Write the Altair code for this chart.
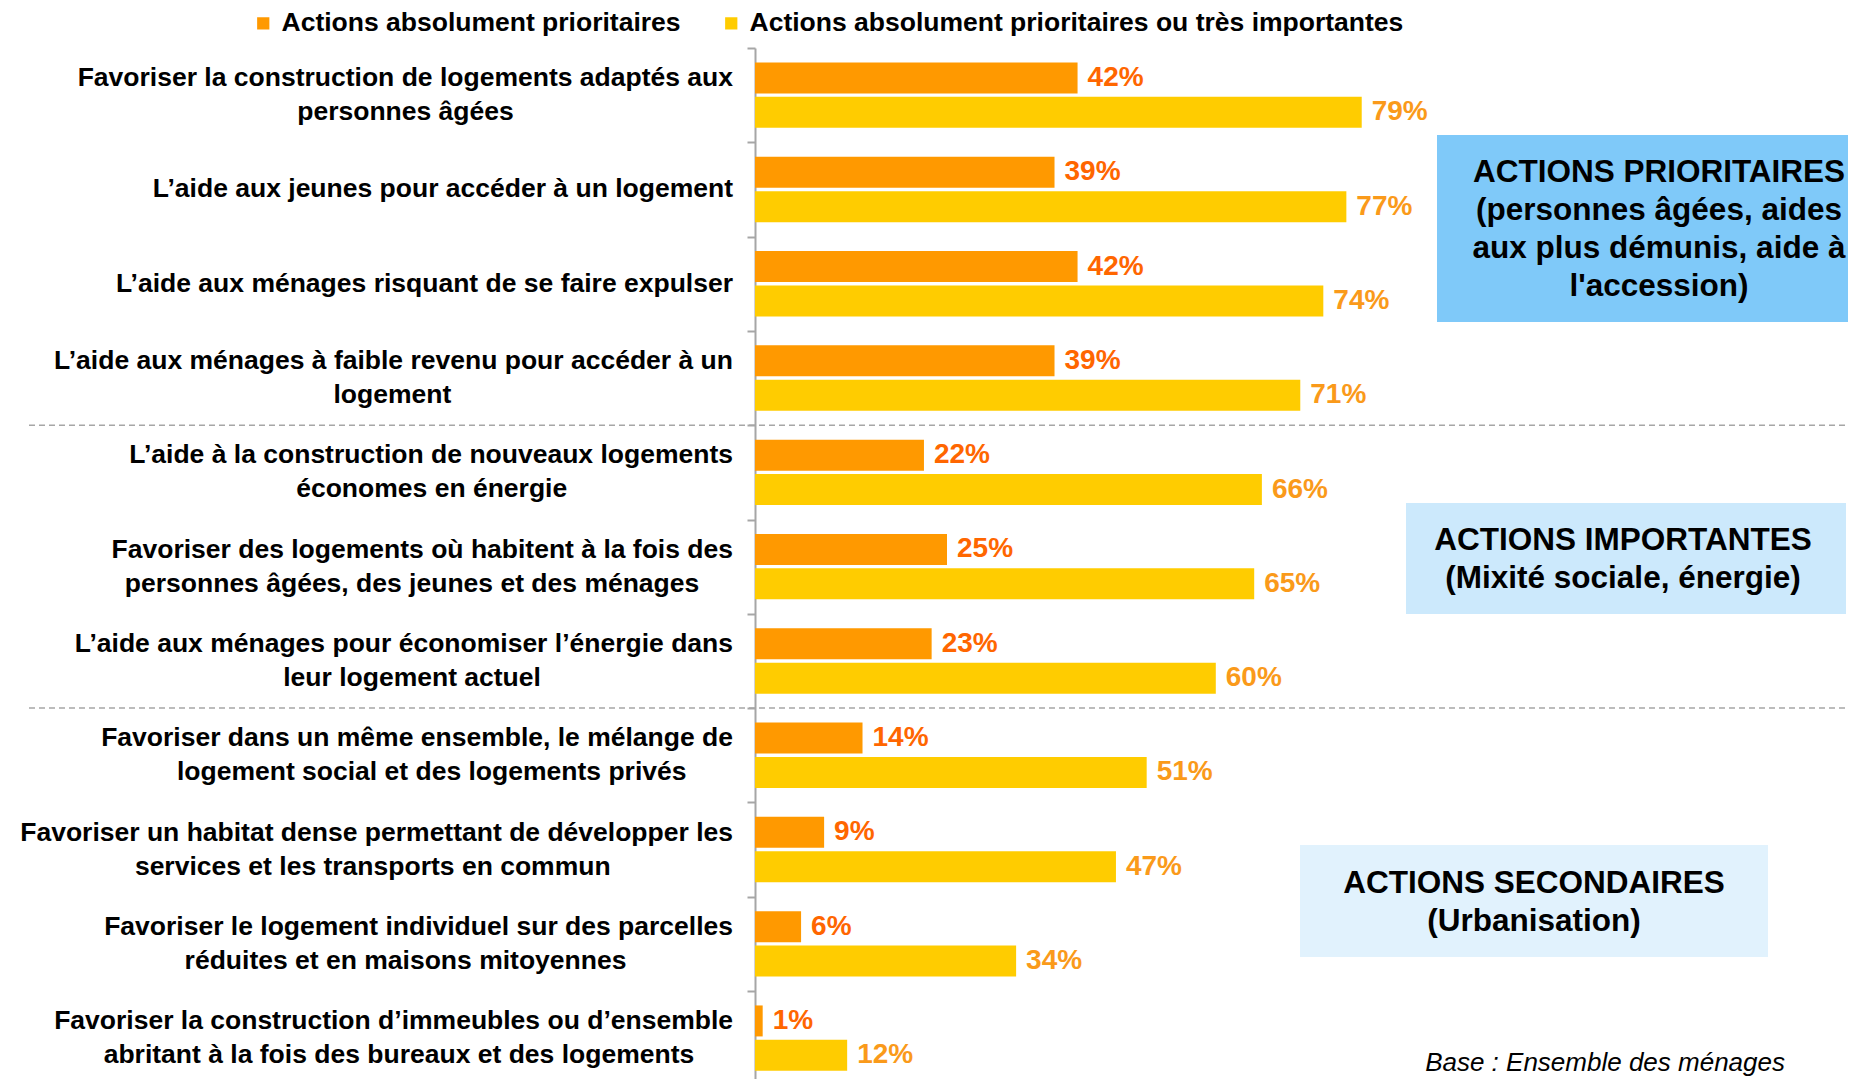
import altair as alt
import pandas as pd

# ---------------- data ----------------
CATEGORIES = [
    "Favoriser la construction de logements adaptés aux|personnes âgées",
    "L’aide aux jeunes pour accéder à un logement",
    "L’aide aux ménages risquant de se faire expulser",
    "L’aide aux ménages à faible revenu pour accéder à un|logement",
    "L’aide à la construction de nouveaux logements|économes en énergie",
    "Favoriser des logements où habitent à la fois des|personnes âgées, des jeunes et des ménages",
    "L’aide aux ménages pour économiser l’énergie dans|leur logement actuel",
    "Favoriser dans un même ensemble, le mélange de|logement social et des logements privés",
    "Favoriser un habitat dense permettant de développer les|services et les transports en commun",
    "Favoriser le logement individuel sur des parcelles|réduites et en maisons mitoyennes",
    "Favoriser la construction d’immeubles ou d’ensemble|abritant à la fois des bureaux et des logements",
]
SERIES = ["Actions absolument prioritaires",
          "Actions absolument prioritaires ou très importantes"]
PRIO = [42, 39, 42, 39, 22, 25, 23, 14, 9, 6, 1]
TRES = [79, 77, 74, 71, 66, 65, 60, 51, 47, 34, 12]
GROUP_STARTS = [4, 7]  # first category of the 2nd and 3rd groups

BOX1_LINES = ["ACTIONS PRIORITAIRES", "(personnes âgées, aides",
              "aux plus démunis, aide à", "l'accession)"]
BOX2_LINES = ["ACTIONS IMPORTANTES", "(Mixité sociale, énergie)"]
BOX3_LINES = ["ACTIONS SECONDAIRES", "(Urbanisation)"]
NOTE = "Base : Ensemble des ménages"

# ---------------- style / layout ----------------
FONT = "Liberation Sans, Arial, sans-serif"
ORANGE, YELLOW = "#FF9900", "#FFCC00"
LBL1, LBL2 = "#FF6600", "#FA9A1A"
GRAY = "#A6A6A6"
W, H = 1093, 1031
PAD_L, PAD_T = 747, 40
PX_PER_PCT = 7.68
XMAX = W / PX_PER_PCT
BAND = 94.3
CAT_FS = 26.5
CHAR_W = 13.1
LABEL_X = -22

rows = []
for c, p, t in zip(CATEGORIES, PRIO, TRES):
    rows.append({"cat": c, "series": SERIES[0], "value": p})
    rows.append({"cat": c, "series": SERIES[1], "value": t})
df = pd.DataFrame(rows)
cats_df = pd.DataFrame({"cat": CATEGORIES})
sep_df = pd.DataFrame({"cat": [CATEGORIES[i] for i in GROUP_STARTS]})
one = pd.DataFrame({"k": [0]})

y_enc = alt.Y("cat:N", sort=CATEGORIES,
              scale=alt.Scale(domain=CATEGORIES, range=[0, BAND * len(CATEGORIES)],
                              paddingInner=0, paddingOuter=0),
              axis=alt.Axis(labels=False, title=None, tickBand="extent",
                            domainColor=GRAY, domainWidth=2, tickColor=GRAY,
                            tickWidth=2, tickSize=8, grid=False))
y_plain = alt.Y("cat:N", sort=CATEGORIES)
yoff = alt.YOffset("series:N", sort=SERIES,
                   scale=alt.Scale(domain=SERIES, paddingInner=0.1, paddingOuter=0.42))
x_enc = alt.X("value:Q", scale=alt.Scale(domain=[0, XMAX], nice=False, zero=True), axis=None)

bars = alt.Chart(df).mark_bar().encode(
    y=y_enc, yOffset=yoff, x=x_enc,
    color=alt.Color("series:N", sort=SERIES,
                    scale=alt.Scale(domain=SERIES, range=[ORANGE, YELLOW]),
                    legend=alt.Legend(orient="none", legendX=-505, legendY=-38,
                                      direction="horizontal", title=None,
                                      labelFont=FONT, labelFontSize=26.5,
                                      labelFontWeight="bold", labelColor="black",
                                      symbolType="square", symbolSize=150,
                                      symbolStrokeWidth=0, symbolOpacity=1,
                                      labelOffset=5, columnPadding=37,
                                      labelLimit=2000)),
)

values = alt.Chart(df).transform_calculate(lab="datum.value + '%'").mark_text(
    align="left", baseline="middle", dx=10, fontSize=28, fontWeight="bold", font=FONT
).encode(
    y=y_plain, yOffset=yoff, x="value:Q", text="lab:N",
    color=alt.condition(f"datum.series == '{SERIES[0]}'", alt.value(LBL1), alt.value(LBL2)),
)

cat_base = alt.Chart(cats_df).transform_calculate(
    l1="split(datum.cat, '|')[0]",
    l2="split(datum.cat + '|', '|')[1]",
)
txt_kw = dict(fontSize=CAT_FS, fontWeight="bold", font=FONT, color="black", baseline="middle")
single = cat_base.transform_filter("datum.l2 == ''").mark_text(align="right", **txt_kw).encode(
    y=y_plain, x=alt.value(LABEL_X), text="l1:N")
first = cat_base.transform_filter("datum.l2 != ''").mark_text(align="right", dy=-17, **txt_kw).encode(
    y=y_plain, x=alt.value(LABEL_X), text="l1:N")
second = cat_base.transform_filter("datum.l2 != ''").transform_calculate(
    cx=f"({LABEL_X} - 0.5 * {CHAR_W} * length(datum.l1)) / {PX_PER_PCT}"
).mark_text(align="center", dy=17, **txt_kw).encode(
    y=y_plain, x=alt.X("cx:Q"), text="l2:N")

seps = alt.Chart(sep_df).mark_rule(strokeDash=[6, 4], color=GRAY, strokeWidth=1.5).encode(
    y=alt.Y("cat:N", sort=CATEGORIES, bandPosition=0),
    x=alt.value(-726), x2=alt.value(W + 20))


def box(x1, x2, y1, y2, fill):
    return alt.Chart(one).mark_rect(color=fill).encode(
        x=alt.value(x1), x2=alt.value(x2), y=alt.value(y1), y2=alt.value(y2))


def box_text(lines, cx, first_line_y):
    return alt.Chart(one).mark_text(
        text=lines, lineHeight=38, fontSize=31.5, fontWeight="bold", font=FONT,
        color="black", align="center", baseline="middle"
    ).encode(x=alt.value(cx), y=alt.value(first_line_y))


note = alt.Chart(one).mark_text(
    text=NOTE, align="right", baseline="alphabetic", fontSize=26, fontStyle="italic",
    font=FONT, color="black"
).encode(x=alt.value(1030), y=alt.value(1023))

chart = alt.layer(
    box(682, W + 20, 87, 274, "#7FC9F9"),
    box(651, 1091, 455, 566, "#CCE9FC"),
    box(545, 1013, 797, 909, "#E1F2FD"),
    box_text(BOX1_LINES, 904, 125),
    box_text(BOX2_LINES, 868, 493),
    box_text(BOX3_LINES, 779, 836),
    seps, bars, values, single, first, second, note,
).properties(
    width=W, height=H,
    autosize=alt.AutoSizeParams(type="none"),
    padding={"left": PAD_L, "top": PAD_T, "right": 0, "bottom": 0},
    background="white",
).configure_view(stroke=None)

chart.save("out.html", embed_options={"renderer": "svg", "actions": False})
